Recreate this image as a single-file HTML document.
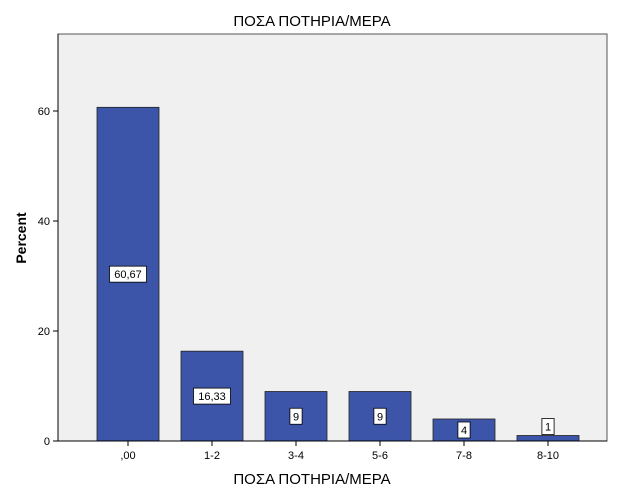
<!DOCTYPE html>
<html><head><meta charset="utf-8"><style>body{margin:0;background:#fff}svg{display:block;font-family:"Liberation Sans",sans-serif}</style></head>
<body>
<svg width="626" height="501" id="chart">
<text x="312" y="26" text-anchor="middle" font-size="15">ΠΟΣΑ ΠΟΤΗΡΙΑ/ΜΕΡΑ</text>
<rect x="58" y="34" width="549" height="407" fill="#f0f0f0" stroke="#555" stroke-width="1"/>
<g id="bars"></g>
<line x1="58" y1="441" x2="607" y2="441" stroke="#000"/>
<line x1="58" y1="34" x2="58" y2="441" stroke="#000"/>
<text x="312" y="484" text-anchor="middle" font-size="15">ΠΟΣΑ ΠΟΤΗΡΙΑ/ΜΕΡΑ</text>
<text transform="translate(26,238) rotate(-90)" text-anchor="middle" font-size="14" font-weight="bold">Percent</text>
</svg>
<script>
const categories=[",00","1-2","3-4","5-6","7-8","8-10"];
const values=[60.67,16.33,9,9,4,1];
const valueLabels=["60,67","16,33","9","9","4","1"];
const yTicks=[0,20,40,60];
const svg=document.getElementById('chart'),g=document.getElementById('bars');
const NS='http://www.w3.org/2000/svg';
const y0=441,yMax=74,plotTop=34;
const y=v=>y0-(y0-plotTop)*v/yMax;
const x=i=>128+84*i;
const bw=62;
function mk(t,a,p){const e=document.createElementNS(NS,t);for(const k in a)e.setAttribute(k,a[k]);(p||svg).appendChild(e);return e;}
yTicks.forEach(t=>{
 const l=mk('line',{x1:53,x2:58,y1:y(t),y2:y(t),stroke:'#000'});
 
 
 const tx=mk('text',{x:50,y:y(t)+4,'text-anchor':'end','font-size':11});
 tx.textContent=t;
 
 
});
categories.forEach((c,i)=>{
 const cx=x(i),top=y(values[i]);
 const r=mk('rect',{x:cx-bw/2,y:top,width:bw,height:y0-top,fill:'#3d55a8',stroke:'#222','stroke-width':0.8},g);
 
 
 const tk=mk('line',{x1:cx,x2:cx,y1:441,y2:446,stroke:'#000'});
 
 
 const lab=mk('text',{x:cx,y:459,'text-anchor':'middle','font-size':11});
 lab.textContent=c;
 
 
 const h=y0-top;
 let cy=h<16?top-9:(top+y0)/2;
 const txt=valueLabels[i];
 const w=txt.length*6.2+6;
 const b=mk('rect',{x:cx-w/2,y:cy-8,width:w,height:16,fill:'#fff',stroke:'#000','stroke-width':0.8},g);
 
 
 const vt=mk('text',{x:cx,y:cy+4,'text-anchor':'middle','font-size':11},g);
 vt.textContent=txt;
 
 
});
</script>
</body></html>
